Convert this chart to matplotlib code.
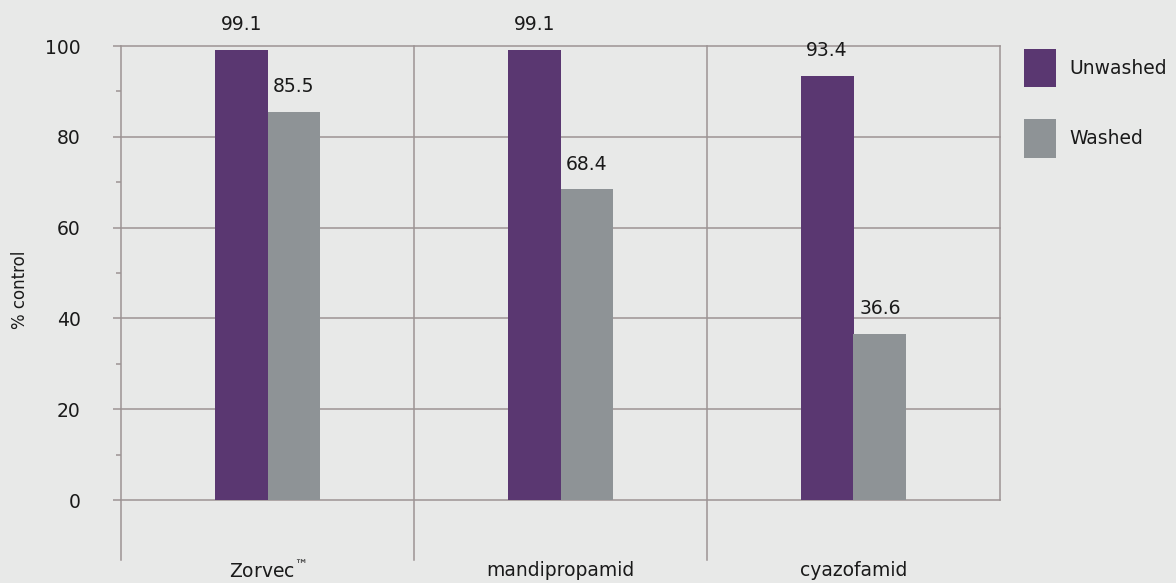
import matplotlib
matplotlib.use("Agg")
import matplotlib.pyplot as plt
from matplotlib.patches import Patch
import numpy as np

categories = ["Zorvec$^{\\mathregular{™}}$", "mandipropamid", "cyazofamid"]
unwashed = [99.1, 99.1, 93.4]
washed = [85.5, 68.4, 36.6]
series_names = ["Unwashed", "Washed"]
yticks = [0, 20, 40, 60, 80, 100]

bg = "#e8e9e8"
purple = "#5a3771"
gray = "#8e9396"
linec = "#9d9494"
tc = "#1a1a1a"
fs = 13.5

plt.rcParams['font.family'] = ['DejaVu Sans']

fig = plt.figure(figsize=(11.76, 5.83), dpi=100, facecolor=bg)
ax = fig.add_axes([121/1176, (583-560)/583, (1000-121)/1176, (560-46)/583])
ax.set_facecolor(bg)

x = np.arange(len(categories))
w = 0.18
b1 = ax.bar(x - w/2, unwashed, w, color=purple, zorder=3)
b2 = ax.bar(x + w/2, washed, w, color=gray, zorder=3)

for bars, vals in ((b1, unwashed), (b2, washed)):
    for r, v in zip(bars, vals):
        ax.text(r.get_x() + r.get_width()/2, v + 3.5, f"{v:.1f}", ha="center",
                va="bottom", fontsize=fs, color=tc)

ax.set_xlim(-0.5, 2.5)
ax.set_ylim(-13.2, 100)

for s in ax.spines.values():
    s.set_visible(False)

for yv in yticks:
    ax.plot([-0.5, 2.5], [yv, yv], color=linec, lw=1.1, zorder=1, clip_on=False)
for xv in [-0.5, 0.5, 1.5]:
    ax.plot([xv, xv], [-13.2, 100], color=linec, lw=1.1, zorder=1, clip_on=False)
ax.plot([2.5, 2.5], [0, 100], color=linec, lw=1.1, zorder=1, clip_on=False)

ax.set_yticks(yticks)
ax.set_yticks([10, 30, 50, 70, 90], minor=True)
ax.tick_params(axis="y", which="major", length=6, width=1.1, color=linec,
               pad=23, labelsize=fs, labelcolor=tc)
ax.tick_params(axis="y", which="minor", length=3.6, width=1.1, color=linec)
ax.set_xticks([])

for xi, lab in zip(x, categories):
    ax.text(xi, -15.6, lab, ha="center", va="center", fontsize=fs,
            color=tc, clip_on=False)

fig.text(20/1176, 1 - 290/583, "% control", rotation=90, ha="center",
         va="center", fontsize=12, color=tc)

handles = [Patch(facecolor=purple), Patch(facecolor=gray)]
leg = fig.legend(handles, series_names, loc="upper left",
                 bbox_to_anchor=(1007/1176, 1 - 32/583), frameon=False,
                 fontsize=fs, handlelength=1.7, handleheight=2.78,
                 labelspacing=1.7, handletextpad=0.75)
for t in leg.get_texts():
    t.set_color(tc)

fig.savefig("out.png", dpi=100, facecolor=bg)
